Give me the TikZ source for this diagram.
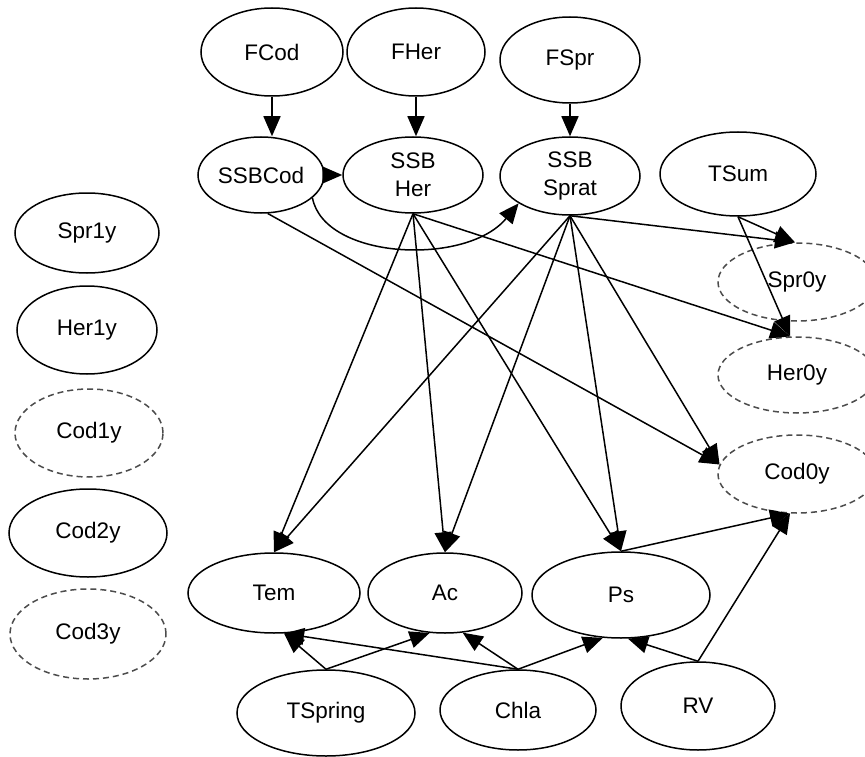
\documentclass[tikz,border=0pt]{standalone}
\usepackage{fontspec}
\setmainfont{Liberation Sans}
\usetikzlibrary{shapes.geometric,arrows.meta}
\begin{document}
\begin{tikzpicture}[x=1pt,y=-1pt,
  nd/.style={ellipse,draw,line width=1.5pt,inner sep=0pt,font=\fontsize{22.5}{28}\selectfont,align=center},
  dsh/.style={nd,draw=black!70,dash pattern=on 6pt off 4pt},
  arr/.style={line width=1.5pt,-{Triangle[length=20pt,width=17pt]}}]
\useasboundingbox (0,0) rectangle (865,757);
% top row
\node[nd,minimum width=142pt,minimum height=88pt] (FCod) at (272,52) {FCod};
\node[nd,minimum width=138pt,minimum height=88pt] (FHer) at (416,52) {FHer};
\node[nd,minimum width=140pt,minimum height=86pt] (FSpr) at (570,60) {FSpr};
% second row
\node[nd,minimum width=126pt,minimum height=76pt] (SSBCod) at (261,175) {SSBCod};
\node[nd,minimum width=140pt,minimum height=76pt] (SSBHer) at (413,175) {SSB\\Her};
\node[nd,minimum width=140pt,minimum height=78pt] (SSBSprat) at (570,176) {SSB\\Sprat};
\node[nd,minimum width=156pt,minimum height=84pt] (TSum) at (738,174) {TSum};
% right column
\node[dsh,minimum width=158pt,minimum height=78pt] (Spr0y) at (797,282) {Spr0y};
\node[dsh,minimum width=158pt,minimum height=76pt] (Her0y) at (797,375) {Her0y};
\node[dsh,minimum width=158pt,minimum height=78pt] (Cod0y) at (797,474) {Cod0y};
% left column
\node[nd,minimum width=144pt,minimum height=80pt] (Spr1y) at (87,233) {Spr1y};
\node[nd,minimum width=140pt,minimum height=88pt] (Her1y) at (87,330) {Her1y};
\node[dsh,minimum width=148pt,minimum height=88pt] (Cod1y) at (89,433) {Cod1y};
\node[nd,minimum width=158pt,minimum height=88pt] (Cod2y) at (88,533) {Cod2y};
\node[dsh,minimum width=156pt,minimum height=90pt] (Cod3y) at (88,634) {Cod3y};
% bottom rows
\node[nd,minimum width=172pt,minimum height=80pt] (Tem) at (274,593) {Tem};
\node[nd,minimum width=154pt,minimum height=80pt] (Ac) at (445,593) {Ac};
\node[nd,minimum width=178pt,minimum height=86pt] (Ps) at (621,595) {Ps};
\node[nd,minimum width=178pt,minimum height=86pt] (TSpring) at (326,713) {TSpring};
\node[nd,minimum width=156pt,minimum height=80pt] (Chla) at (518,710) {Chla};
\node[nd,minimum width=154pt,minimum height=88pt] (RV) at (698,706) {RV};
% edges
\draw[arr] (FCod.south) -- (FCod.south |- SSBCod.north);
\draw[arr] (FHer.south) -- (FHer.south |- SSBHer.north);
\draw[arr] (FSpr.south) -- (FSpr.south |- SSBSprat.north);
\draw[arr] (SSBCod.east) -- (SSBHer.west);
\draw[arr] (SSBCod.-24) .. controls +(12,62) and +(-52,63) .. (SSBSprat.208);
\draw[arr] (SSBCod.-80) -- (Cod0y.173);
\draw[arr] (SSBHer.south) -- (Tem.north);
\draw[arr] (SSBHer.south) -- (Ac.north);
\draw[arr] (SSBHer.south) -- (Ps.north);
\draw[arr] (SSBHer.south) -- (Her0y.100);
\draw[arr] (SSBSprat.south) -- (Tem.north);
\draw[arr] (SSBSprat.south) -- (Ac.north);
\draw[arr] (SSBSprat.south) -- (Ps.north);
\draw[arr] (SSBSprat.south) -- (Cod0y.173);
\draw[arr] (SSBSprat.south) -- (Spr0y.93);
\draw[arr] (TSum.south) -- (Spr0y.93);
\draw[arr] (TSum.south) -- (Her0y.100);
\draw[arr] (Ps.north) -- (Cod0y.-100);
\draw[arr] (RV.north) -- (Cod0y.-100);
\draw[arr] (TSpring.north) -- (Tem.-76);
\draw[arr] (TSpring.north) -- (Ac.-111);
\draw[arr] (Chla.north) -- (Tem.-76);
\draw[arr] (Chla.north) -- (Ac.-66);
\draw[arr] (Chla.north) -- (Ps.-113);
\draw[arr] (RV.north) -- (Ps.-81);
\end{tikzpicture}
\end{document}
